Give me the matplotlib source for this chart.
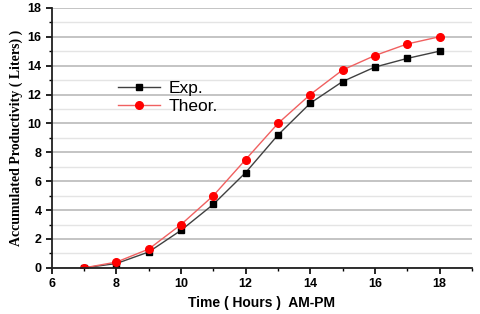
import matplotlib

matplotlib.use("Agg")
import matplotlib.pyplot as plt
from matplotlib.ticker import MultipleLocator

hours = [7, 8, 9, 10, 11, 12, 13, 14, 15, 16, 17, 18]
exp_vals = [0.0, 0.3, 1.1, 2.6, 4.4, 6.6, 9.2, 11.4, 12.9, 13.9, 14.5, 15.0]
theor_vals = [0.0, 0.4, 1.3, 3.0, 5.0, 7.5, 10.0, 12.0, 13.7, 14.7, 15.5, 16.0]

fig = plt.figure(figsize=(4.8, 3.14), dpi=100)
ax = fig.add_axes([0.108, 0.147, 0.875, 0.828])

ax.plot(hours, exp_vals, color="#404040", linewidth=1.0, marker="s",
        markersize=5, markerfacecolor="black", markeredgecolor="black", label="Exp.")
ax.plot(hours, theor_vals, color="#f06060", linewidth=1.0, marker="o",
        markersize=5.5, markerfacecolor="red", markeredgecolor="red", label="Theor.")

ax.set_xlim(6, 19)
ax.set_ylim(0, 18)
ax.xaxis.set_major_locator(MultipleLocator(2))
ax.xaxis.set_minor_locator(MultipleLocator(1))
ax.yaxis.set_major_locator(MultipleLocator(2))
ax.yaxis.set_minor_locator(MultipleLocator(1))

ax.grid(True, which="major", axis="y", color="#c4c4c4", linewidth=1.4)
ax.grid(True, which="minor", axis="y", color="#e4e4e4", linewidth=1.0)
ax.set_axisbelow(True)

for s in ("top", "right"):
    ax.spines[s].set_visible(False)
for s in ("left", "bottom"):
    ax.spines[s].set_linewidth(1.3)
    ax.spines[s].set_color("#202020")

ax.tick_params(which="major", direction="out", length=4, width=1.2, labelsize=9)
ax.tick_params(which="minor", direction="out", length=2.5, width=1.0)
for lab in ax.get_xticklabels() + ax.get_yticklabels():
    lab.set_fontweight("bold")
    lab.set_family("Liberation Sans")

ax.set_xlabel("Time ( Hours )  AM-PM", fontsize=10, fontweight="bold",
              family="Liberation Sans", labelpad=4)
ax.set_ylabel("Accumulated Productivity ( Liters) )", fontsize=10, fontweight="bold",
              family="Liberation Serif", labelpad=3)

ax.legend(loc="upper left", bbox_to_anchor=(0.12, 0.78), frameon=False,
          prop={"family": "Liberation Sans", "size": 12.5}, handlelength=2.4,
          labelspacing=0.15, handletextpad=0.5)

fig.savefig("out.png", dpi=100)
